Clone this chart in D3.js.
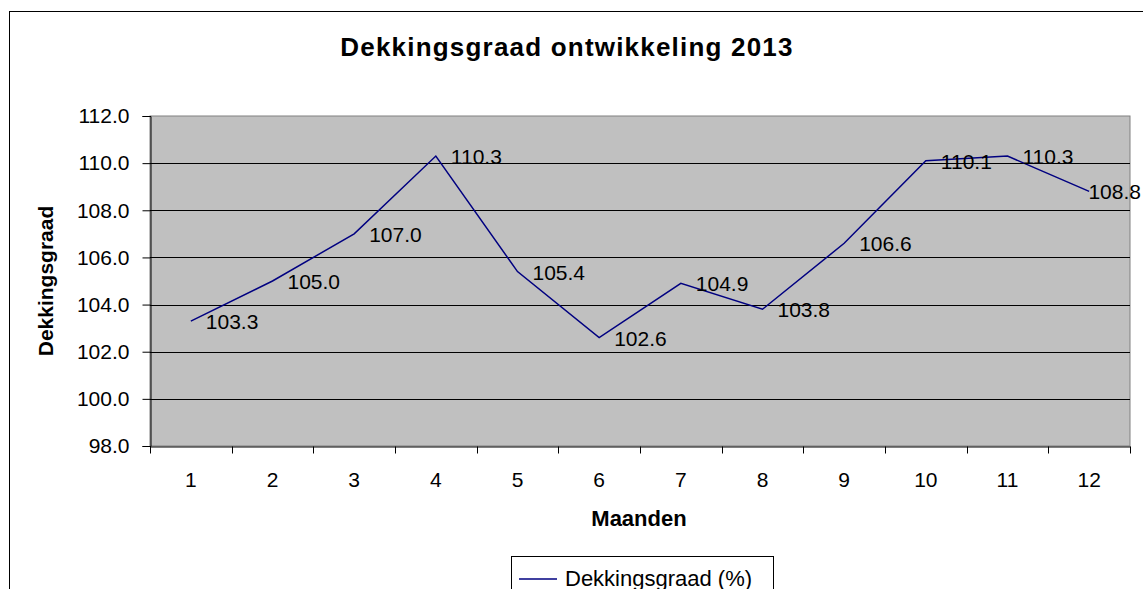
<!DOCTYPE html>
<html>
<head>
<meta charset="utf-8">
<script src="https://cdn.jsdelivr.net/npm/d3@7"></script>
<style>
  body { margin: 0; background: #fff; }
  svg { display: block; font-family: "Liberation Sans", Arial, sans-serif; }
</style>
</head>
<body>
<svg id="chart" width="1143" height="589"></svg>
<script>
// chart data
const months = ['1', '2', '3', '4', '5', '6', '7', '8', '9', '10', '11', '12'];
const dekkingsgraad = [103.3, 105.0, 107.0, 110.3, 105.4, 102.6, 104.9, 103.8, 106.6, 110.1, 110.3, 108.8];
const yTicks = [98, 100, 102, 104, 106, 108, 110, 112];
const title = 'Dekkingsgraad ontwikkeling 2013';
const xTitle = 'Maanden';
const yTitle = 'Dekkingsgraad';
const seriesName = 'Dekkingsgraad (%)';

const svg = d3.select('#chart');
const plot = {left: 150, top: 116, right: 1130, bottom: 446};

// outer chart frame (runs off the picture at right and bottom)
svg.append('rect')
  .attr('x', 9.5).attr('y', 11.5)
  .attr('width', 1200).attr('height', 700)
  .attr('fill', '#fff').attr('stroke', '#000').attr('stroke-width', 1);

const x = d3.scaleBand().domain(months).range([plot.left, plot.right]);
const y = d3.scaleLinear().domain([98, 112]).range([plot.bottom, plot.top]);

// plot area
svg.append('rect')
  .attr('x', plot.left).attr('y', plot.top)
  .attr('width', plot.right - plot.left).attr('height', plot.bottom - plot.top)
  .attr('fill', '#c0c0c0').attr('stroke', '#808080').attr('stroke-width', 1);

// gridlines
svg.append('g')
  .selectAll('line')
  .data(yTicks.filter(d => d > 98 && d < 112))
  .enter().append('line')
  .attr('x1', plot.left).attr('x2', plot.right)
  .attr('y1', d => Math.round(y(d)) + 0.5).attr('y2', d => Math.round(y(d)) + 0.5)
  .attr('stroke', '#000').attr('stroke-width', 1);

// y axis
const yAxis = svg.append('g')
  .attr('transform', `translate(${plot.left + 0.5},0)`)
  .call(d3.axisLeft(y).tickValues(yTicks).tickSize(8).tickPadding(13).tickFormat(d3.format('.1f')));
yAxis.selectAll('text').style('font-size', '21px').attr('fill', '#000');
yAxis.select('.domain').attr('stroke', '#000');
yAxis.selectAll('.tick line').attr('stroke', '#000');

// x axis (category ticks between months)
const xAxis = svg.append('g')
  .attr('transform', `translate(0,${plot.bottom + 0.5})`)
  .call(d3.axisBottom(x).tickSize(0).tickPadding(26));
xAxis.selectAll('text').style('font-size', '21px').attr('fill', '#000');
xAxis.select('.domain').attr('stroke', '#000');
const edges = months.map(m => x(m)).concat([plot.right]);
xAxis.selectAll('.edge')
  .data(edges)
  .enter().append('line')
  .attr('class', 'edge')
  .attr('x1', d => Math.round(d) + 0.5).attr('x2', d => Math.round(d) + 0.5)
  .attr('y1', 0).attr('y2', 7)
  .attr('stroke', '#000');

// series line
const cx = m => x(m) + x.bandwidth() / 2;
const line = d3.line()
  .x((d, i) => cx(months[i]))
  .y(d => y(d));
svg.append('path')
  .datum(dekkingsgraad)
  .attr('d', line)
  .attr('fill', 'none')
  .attr('stroke', '#000080')
  .attr('stroke-width', 1.5);

// data labels, pushed back inside the chart if they run off the right edge
svg.append('g')
  .selectAll('text')
  .data(dekkingsgraad)
  .enter().append('text')
  .attr('x', (d, i) => cx(months[i]) + 15)
  .attr('y', d => y(d) + 8)
  .style('font-size', '21px')
  .text(d => d3.format('.1f')(d))
  .each(function() {
    const w = this.getComputedTextLength();
    const x0 = +this.getAttribute('x');
    if (x0 + w > 1141) this.setAttribute('x', 1141 - w);
  });

// titles
svg.append('text')
  .attr('x', 567).attr('y', 56)
  .attr('text-anchor', 'middle')
  .style('font-size', '26px').style('font-weight', 'bold')
  .style('letter-spacing', '1.2px')
  .text(title);

svg.append('text')
  .attr('x', 639).attr('y', 526)
  .attr('text-anchor', 'middle')
  .style('font-size', '22px').style('font-weight', 'bold')
  .text(xTitle);

svg.append('text')
  .attr('transform', `translate(53,${(plot.top + plot.bottom) / 2}) rotate(-90)`)
  .attr('text-anchor', 'middle')
  .style('font-size', '21px').style('font-weight', 'bold')
  .text(yTitle);

// legend
const lg = svg.append('g');
lg.append('rect')
  .attr('x', 511.5).attr('y', 556.5)
  .attr('width', 262).attr('height', 60)
  .attr('fill', '#fff').attr('stroke', '#000');
lg.append('line')
  .attr('x1', 519).attr('x2', 557)
  .attr('y1', 579).attr('y2', 579)
  .attr('stroke', '#000080').attr('stroke-width', 1.5);
lg.append('text')
  .attr('x', 565).attr('y', 586)
  .style('font-size', '22px')
  .text(seriesName);
</script>
</body>
</html>
